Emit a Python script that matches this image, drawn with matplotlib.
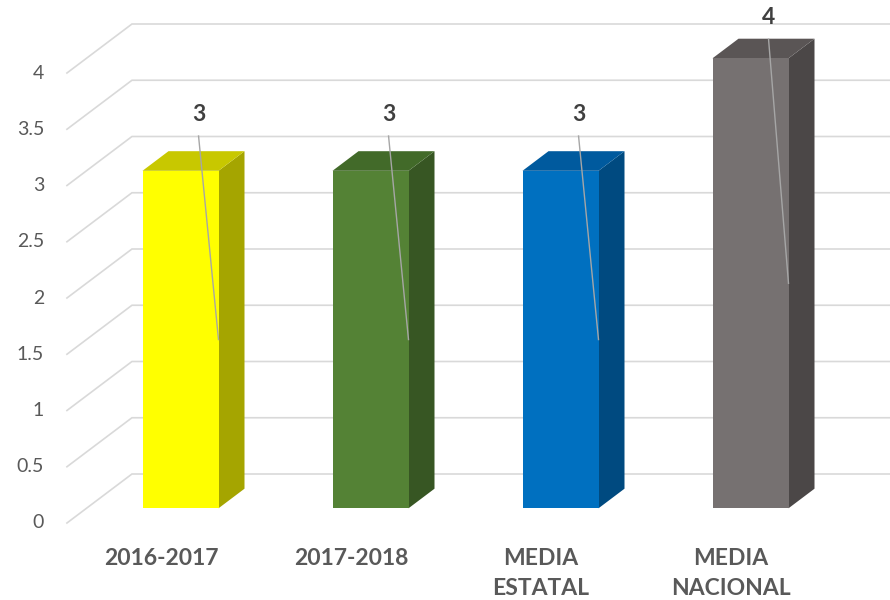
import matplotlib.pyplot as plt
from matplotlib.patches import Polygon

plt.rcParams['font.family'] = ['Lato', 'DejaVu Sans']

categories = ['2016-2017', '2017-2018', 'MEDIA\nESTATAL', 'MEDIA\nNACIONAL']
values = [3, 3, 3, 4]
yticks = [0, 0.5, 1, 1.5, 2, 2.5, 3, 3.5, 4]
front_colors = ['#FFFF00', '#548235', '#0070C0', '#767171']
side_colors = ['#A5A500', '#375623', '#004A80', '#4B4747']
top_colors = ['#C8C800', '#426A29', '#005A9E', '#5A5555']

# 3D look: depth offset of the back wall, in data units
DX = 65 / 190
DY = 49 / 112.5
bar_w = 0.4
d_front, d_back = 0.3, 0.7
floor_left = -0.495

fig = plt.figure(figsize=(8.9, 6), dpi=100)
ax = fig.add_axes([0, 0, 1, 1])
ax.set_xlim(-161 / 190, (890 - 161) / 190)
ax.set_ylim(-(600 - 523) / 112.5, 4 + 73 / 112.5)
ax.axis('off')


def off(x, y, d):
    return (x + d * DX, y + d * DY)


# gridlines: slanted side wall + flat back wall
for v in yticks:
    p0 = (floor_left, v)
    p1 = off(floor_left, v, 1)
    ax.plot([p0[0], p1[0], 5], [p0[1], p1[1], p1[1]], color='#D9D9D9', lw=1.2,
            zorder=1, solid_joinstyle='miter')
    ax.text(floor_left - 0.12, v, f'{v:g}', ha='right', va='center',
            fontsize=14, color='#595959')

for i, (v, fc, sc, tc) in enumerate(zip(values, front_colors, side_colors, top_colors)):
    x0, x1 = i - bar_w / 2, i + bar_w / 2
    f_bl, f_br = off(x0, 0, d_front), off(x1, 0, d_front)
    f_tl, f_tr = off(x0, v, d_front), off(x1, v, d_front)
    b_br, b_tr, b_tl = off(x1, 0, d_back), off(x1, v, d_back), off(x0, v, d_back)
    ax.add_patch(Polygon([f_br, b_br, b_tr, f_tr], closed=True, fc=sc, ec='none', zorder=3))
    ax.add_patch(Polygon([f_tl, f_tr, b_tr, b_tl], closed=True, fc=tc, ec='none', zorder=3))
    ax.add_patch(Polygon([f_bl, f_br, f_tr, f_tl], closed=True, fc=fc, ec='none', zorder=4))

    # data label with leader line
    ly = min(v + 0.63, 4.49)
    lx = f_tr[0] - 0.105
    ax.text(lx, ly, f'{v}', ha='center', va='center', fontsize=16.5,
            fontweight='bold', color='#404040', zorder=6)
    end = off(x1, v / 2, d_front)
    ax.plot([lx, end[0]], [ly - 0.19, end[1]], color='#A6A6A6', lw=1, zorder=5)

    ax.text(i, -0.22, categories[i], ha='center', va='top', fontsize=16.5,
            fontweight='bold', color='#595959', linespacing=1.55)

fig.savefig('out.png', dpi=100)
